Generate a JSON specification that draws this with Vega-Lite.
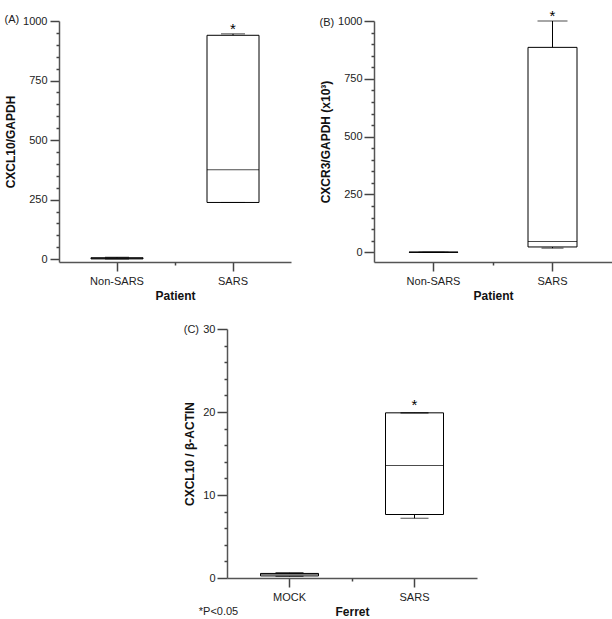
{
  "$schema": "https://vega.github.io/schema/vega-lite/v6.json",
  "padding": {"left": 4, "top": 9, "right": 0, "bottom": 0},
  "config": {
    "view": {"stroke": null},
    "font": "Liberation Sans",
    "title": {"font": "Liberation Sans", "fontSize": 11, "fontWeight": "normal", "color": "#222"},
    "axis": {
      "domainColor": "#555", "domainWidth": 1.5, "tickColor": "#444", "tickWidth": 1.5,
      "labelFont": "Liberation Sans", "labelFontSize": 11, "labelColor": "#222",
      "titleFont": "Liberation Sans", "titleFontSize": 12, "titleFontWeight": "bold", "titleColor": "#111",
      "grid": false
    }
  },
  "vconcat": [
    {
      "hconcat": [
        {
          "width": 232, "height": 241,
          "title": {"text": "(A)", "anchor": "start", "frame": "bounds", "offset": -10},
          "data": {"values": [
            {"group": "Non-SARS", "min": 0.5, "q1": 1, "median": 3, "q3": 6, "max": 8, "star": ""},
            {"group": "SARS", "min": 238, "q1": 238, "median": 375, "q3": 940, "max": 946, "star": "*"}
          ]},
          "layer": [
            {"mark": {"type": "rule", "color": "black", "strokeWidth": 1},
             "encoding": {
               "x": {"field": "group", "type": "nominal", "scale": {"domain": ["Non-SARS", "SARS"], "paddingInner": 0, "paddingOuter": 0},
                     "axis": {"orient": "bottom", "title": "Patient", "labelAngle": 0, "tickSize": 9, "labelPadding": 4, "titlePadding": 4}},
               "y": {"field": "min", "type": "quantitative", "scale": {"domain": [-12, 1000], "nice": false, "zero": false},
                     "axis": {"orient": "left", "values": [0, 250, 500, 750, 1000], "format": "d", "title": "CXCL10/GAPDH", "tickSize": 9, "labelPadding": 3, "titlePadding": 5}},
               "y2": {"field": "max"}}},
            {"mark": {"type": "bar", "fill": "white", "stroke": "black", "strokeWidth": 1, "width": 52},
             "encoding": {
               "x": {"field": "group", "type": "nominal", "axis": {"orient": "bottom", "values": ["SARS"], "bandPosition": 0, "labels": false, "domain": false, "tickSize": 3, "title": null}},
               "y": {"field": "q1", "type": "quantitative", "axis": {"orient": "left", "values": [50,100,150,200,300,350,400,450,550,600,650,700,800,850,900,950], "labels": false, "domain": false, "tickSize": 3, "title": null}},
               "y2": {"field": "q3"}}},
            {"mark": {"type": "tick", "color": "black", "thickness": 1, "size": 52},
             "encoding": {"x": {"field": "group", "type": "nominal", "axis": null}, "y": {"field": "median", "type": "quantitative", "axis": null}}},
            {"mark": {"type": "tick", "color": "black", "thickness": 1, "size": 24},
             "encoding": {"x": {"field": "group", "type": "nominal", "axis": null}, "y": {"field": "max", "type": "quantitative", "axis": null}}},
            {"mark": {"type": "tick", "color": "black", "thickness": 1, "size": 24},
             "encoding": {"x": {"field": "group", "type": "nominal", "axis": null}, "y": {"field": "min", "type": "quantitative", "axis": null}}},
            {"mark": {"type": "text", "fontSize": 15, "baseline": "alphabetic", "color": "black"},
             "encoding": {"x": {"field": "group", "type": "nominal", "axis": null}, "y": {"field": "max", "type": "quantitative", "axis": null}, "text": {"field": "star"}}}
          ],
          "resolve": {"axis": {"x": "independent", "y": "independent"}}
        },
        {
          "width": 238, "height": 241,
          "title": {"text": "(B)", "anchor": "start", "frame": "bounds", "offset": -19},
          "data": {"values": [
            {"group": "Non-SARS", "min": 0, "q1": 0, "median": 0, "q3": 0.5, "max": 0.5, "star": ""},
            {"group": "SARS", "min": 18, "q1": 23, "median": 47, "q3": 886, "max": 1000, "star": "*"}
          ]},
          "layer": [
            {"mark": {"type": "rule", "color": "black", "strokeWidth": 1},
             "encoding": {
               "x": {"field": "group", "type": "nominal", "scale": {"domain": ["Non-SARS", "SARS"], "paddingInner": 0, "paddingOuter": 0},
                     "axis": {"orient": "bottom", "title": "Patient", "labelAngle": 0, "tickSize": 9, "labelPadding": 4, "titlePadding": 4}},
               "y": {"field": "min", "type": "quantitative", "scale": {"domain": [-42, 1000], "nice": false, "zero": false},
                     "axis": {"orient": "left", "values": [0, 250, 500, 750, 1000], "format": "d", "title": "CXCR3/GAPDH (x10³)", "tickSize": 10, "labelPadding": 2, "titlePadding": 5}},
               "y2": {"field": "max"}}},
            {"mark": {"type": "bar", "fill": "white", "stroke": "black", "strokeWidth": 1, "width": 49},
             "encoding": {
               "x": {"field": "group", "type": "nominal", "axis": {"orient": "bottom", "values": ["SARS"], "bandPosition": 0, "labels": false, "domain": false, "tickSize": 3, "title": null}},
               "y": {"field": "q1", "type": "quantitative", "axis": {"orient": "left", "values": [50,100,150,200,300,350,400,450,550,600,650,700,800,850,900,950], "labels": false, "domain": false, "tickSize": 3, "title": null}},
               "y2": {"field": "q3"}}},
            {"mark": {"type": "tick", "color": "black", "thickness": 1, "size": 49},
             "encoding": {"x": {"field": "group", "type": "nominal", "axis": null}, "y": {"field": "median", "type": "quantitative", "axis": null}}},
            {"mark": {"type": "tick", "color": "black", "thickness": 1, "size": 30},
             "encoding": {"x": {"field": "group", "type": "nominal", "axis": null}, "y": {"field": "max", "type": "quantitative", "axis": null}}},
            {"mark": {"type": "tick", "color": "black", "thickness": 1, "size": 22},
             "encoding": {"x": {"field": "group", "type": "nominal", "axis": null}, "y": {"field": "min", "type": "quantitative", "axis": null}}},
            {"mark": {"type": "text", "fontSize": 15, "baseline": "alphabetic", "color": "black"},
             "encoding": {"x": {"field": "group", "type": "nominal", "axis": null}, "y": {"field": "max", "type": "quantitative", "axis": null}, "text": {"field": "star"}}}
          ],
          "resolve": {"axis": {"x": "independent", "y": "independent"}}
        }
      ],
      "spacing": 28
    },
    {
      "hconcat": [
        {"width": 124, "height": 10, "data": {"values": []}, "mark": "point", "encoding": {}},
        {
          "vconcat": [
            {
              "width": 250, "height": 249,
              "title": {"text": "(C)", "anchor": "start", "frame": "bounds", "offset": -12},
              "data": {"values": [
                {"group": "MOCK", "min": 0.2, "q1": 0.25, "median": 0.45, "q3": 0.55, "max": 0.62, "star": ""},
                {"group": "SARS", "min": 7.2, "q1": 7.65, "median": 13.55, "q3": 19.9, "max": 19.9, "star": "*"}
              ]},
              "layer": [
                {"mark": {"type": "rule", "color": "black", "strokeWidth": 1},
                 "encoding": {
                   "x": {"field": "group", "type": "nominal", "scale": {"domain": ["MOCK", "SARS"], "paddingInner": 0, "paddingOuter": 0},
                         "axis": {"orient": "bottom", "title": "Ferret", "labelAngle": 0, "tickSize": 9, "labelPadding": 4, "titlePadding": 4}},
                   "y": {"field": "min", "type": "quantitative", "scale": {"domain": [0, 30], "nice": false},
                         "axis": {"orient": "left", "values": [0, 10, 20, 30], "title": "CXCL10 / β-ACTIN", "tickSize": 10, "labelPadding": 2, "titlePadding": 6}},
                   "y2": {"field": "max"}}},
                {"mark": {"type": "bar", "fill": "white", "stroke": "black", "strokeWidth": 1, "width": 58},
                 "encoding": {
                   "x": {"field": "group", "type": "nominal", "axis": {"orient": "bottom", "values": ["SARS"], "bandPosition": 0, "labels": false, "domain": false, "tickSize": 3, "title": null}},
                   "y": {"field": "q1", "type": "quantitative", "axis": {"orient": "left", "values": [2,4,6,8,12,14,16,18,22,24,26,28], "labels": false, "domain": false, "tickSize": 3, "title": null}},
                   "y2": {"field": "q3"}}},
                {"mark": {"type": "tick", "color": "black", "thickness": 1, "size": 58},
                 "encoding": {"x": {"field": "group", "type": "nominal", "axis": null}, "y": {"field": "median", "type": "quantitative", "axis": null}}},
                {"mark": {"type": "tick", "color": "black", "thickness": 1.5, "size": 28},
                 "encoding": {"x": {"field": "group", "type": "nominal", "axis": null}, "y": {"field": "max", "type": "quantitative", "axis": null}}},
                {"mark": {"type": "tick", "color": "black", "thickness": 1, "size": 28},
                 "encoding": {"x": {"field": "group", "type": "nominal", "axis": null}, "y": {"field": "min", "type": "quantitative", "axis": null}}},
                {"mark": {"type": "text", "fontSize": 15, "baseline": "alphabetic", "color": "black", "dy": -3},
                 "encoding": {"x": {"field": "group", "type": "nominal", "axis": null}, "y": {"field": "max", "type": "quantitative", "axis": null}, "text": {"field": "star"}}}
              ],
              "resolve": {"axis": {"x": "independent", "y": "independent"}}
            }
          ],
          "title": {"text": "*P<0.05", "orient": "bottom", "anchor": "start", "frame": "bounds", "offset": -11, "dx": 15}
        }
      ],
      "spacing": 0
    }
  ],
  "spacing": 22
}
